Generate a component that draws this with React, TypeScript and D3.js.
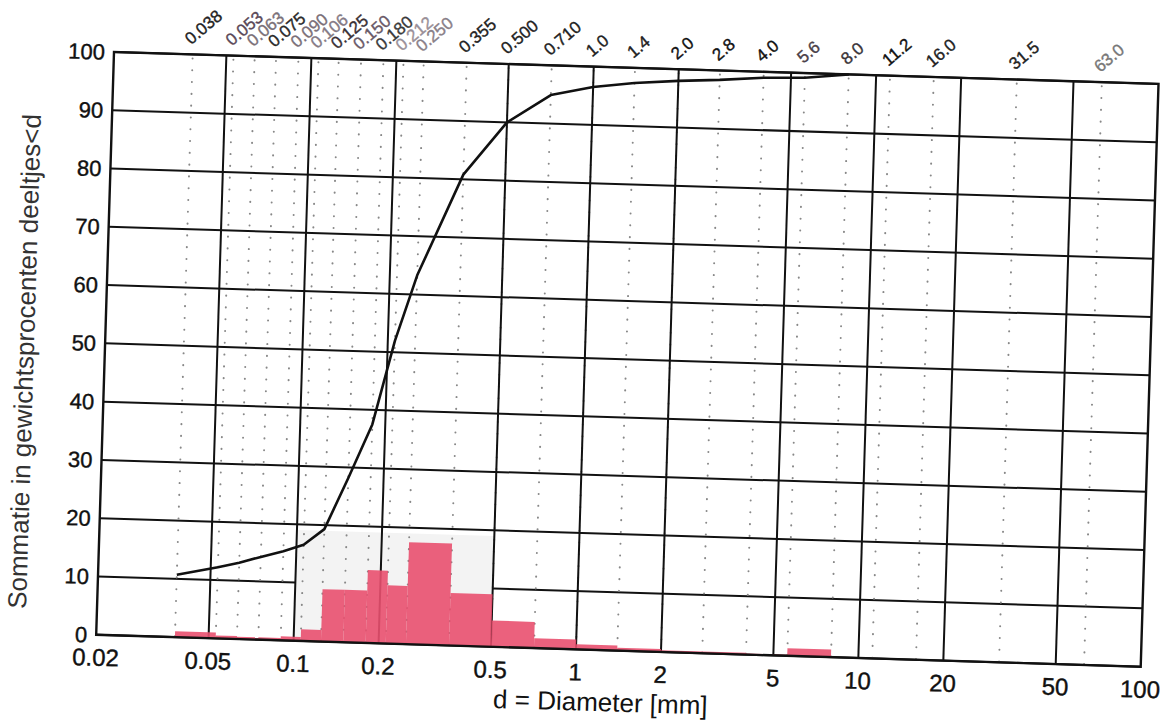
import React from "react";
import * as d3 from "d3";

// ---- data ----
const sieveSizes = [0.038, 0.053, 0.063, 0.075, 0.09, 0.106, 0.125, 0.15, 0.18, 0.212, 0.25, 0.355, 0.5, 0.71, 1.0, 1.4, 2.0, 2.8, 4.0, 5.6, 8.0, 11.2, 16.0, 31.5, 63.0];
const sieveLabels = ["0.038", "0.053", "0.063", "0.075", "0.090", "0.106", "0.125", "0.150", "0.180", "0.212", "0.250", "0.355", "0.500", "0.710", "1.0", "1.4", "2.0", "2.8", "4.0", "5.6", "8.0", "11.2", "16.0", "31.5", "63.0"];
const curveSizes = [0.038, 0.053, 0.063, 0.075, 0.09, 0.106, 0.125, 0.15, 0.18, 0.212, 0.25, 0.355, 0.5, 0.71, 1.0, 1.4, 2.0, 2.8, 4.0, 5.6, 8.0];
const cumulativePct = [10.7, 12.2, 13.1, 14.2, 15.3, 16.5, 19.3, 28.2, 37.5, 52.0, 63.3, 80.8, 90.0, 94.9, 96.5, 97.4, 98.0, 98.4, 99.0, 99.2, 100];
const binLower = [0.038, 0.053, 0.063, 0.075, 0.09, 0.106, 0.125, 0.15, 0.18, 0.212, 0.25, 0.355, 0.5, 0.71, 1.0, 1.4, 2.0, 2.8, 4.0, 5.6];
const binUpper = [0.053, 0.063, 0.075, 0.09, 0.106, 0.125, 0.15, 0.18, 0.212, 0.25, 0.355, 0.5, 0.71, 1.0, 1.4, 2.0, 2.8, 4.0, 5.6, 8.0];
const fractionPct = [1.0, 0.5, 0.4, 0.4, 0.7, 2.0, 9.0, 9.0, 12.5, 10.0, 17.5, 9.0, 4.5, 1.7, 0.9, 0.5, 0.3, 0.3, 0.2, 1.3];
const xTicks = [0.02, 0.05, 0.1, 0.2, 0.5, 1, 2, 5, 10, 20, 50, 100];
const xTickLabels = ["0.02", "0.05", "0.1", "0.2", "0.5", "1", "2", "5", "10", "20", "50", "100"];
const majorX = [0.05, 0.1, 0.2, 0.5, 1, 2, 5, 10, 20, 50];
const yTicks = [0, 10, 20, 30, 40, 50, 60, 70, 80, 90, 100];
const shadeBand = { lo: 0.1, hi: 0.5, top: 19 };

// label tones (scan shading), style only
const labelTones = ["#222", "#5a4858", "#7a7078", "#2a2a2a", "#7a6f78", "#857a85", "#3a3035", "#6a5a68", "#3a3a3a", "#9a9098", "#8a8088", "#222", "#222", "#222", "#222", "#222", "#111", "#111", "#111", "#4a4048", "#3a3438", "#111", "#222", "#222", "#777"];

const W = 1045;
const H = 583;
const FONT = "'Liberation Sans', Arial, Helvetica, sans-serif";

export default function App() {
  const x = d3.scaleLog().domain([0.02, 100]).range([0, W]);
  const y = d3.scaleLinear().domain([0, 100]).range([H, 0]);
  const line = d3
    .line<number>()
    .x((_, i) => x(curveSizes[i]))
    .y((d) => y(d));

  return (
    <svg
      width={1176}
      height={724}
      style={{ position: "absolute", left: 0, top: 0, background: "#fff" }}
    >
      <rect x={0} y={0} width={1176} height={724} fill="#fff" />
      <g transform="translate(114,52) rotate(1.75)">
        {/* horizontal grid */}
        {yTicks.map((t) => (
          <line key={"h" + t} x1={0} x2={W} y1={y(t)} y2={y(t)} stroke="#111" strokeWidth={2} />
        ))}
        {/* shaded band covering the grid */}
        <rect
          x={x(shadeBand.lo)}
          y={y(shadeBand.top)}
          width={x(shadeBand.hi) - x(shadeBand.lo)}
          height={y(0) - y(shadeBand.top)}
          fill="#f3f3f3"
        />
        {/* dotted sieve lines */}
        {sieveSizes.map((s) => (
          <line
            key={"d" + s}
            x1={x(s)}
            x2={x(s)}
            y1={4}
            y2={H}
            stroke="#888"
            strokeWidth={2}
            strokeLinecap="round"
            strokeDasharray="0.1 11.7"
          />
        ))}
        {/* major vertical grid */}
        {majorX.map((t) => (
          <line key={"v" + t} x1={x(t)} x2={x(t)} y1={0} y2={H} stroke="#111" strokeWidth={2} />
        ))}
        {/* histogram bars */}
        {fractionPct.map((v, i) => (
          <rect
            key={"b" + i}
            x={x(binLower[i])}
            y={y(v)}
            width={x(binUpper[i]) - x(binLower[i])}
            height={y(0) - y(v)}
            fill="#e9506f"
            fillOpacity={0.9}
          />
        ))}
        {/* cumulative curve */}
        <path d={line(cumulativePct) || ""} fill="none" stroke="#111" strokeWidth={2.6} strokeLinejoin="round" />
        {/* frame */}
        <rect x={0} y={0} width={W} height={H} fill="none" stroke="#111" strokeWidth={2.4} />
        {/* y tick labels */}
        {yTicks.map((t) => (
          <text
            key={"yl" + t}
            x={-9}
            y={y(t)}
            dy="0.36em"
            textAnchor="end"
            fontFamily={FONT}
            fontSize={22}
            fill="#111"
            stroke="#111"
            strokeWidth={0.4}
          >
            {t}
          </text>
        ))}
        {/* x tick labels */}
        {xTicks.map((t, i) => (
          <text
            key={"xl" + t}
            x={x(t)}
            y={H + 31}
            textAnchor="middle"
            fontFamily={FONT}
            fontSize={24}
            fill="#111"
            stroke="#111"
            strokeWidth={0.4}
          >
            {xTickLabels[i]}
          </text>
        ))}
        {/* sieve labels on top */}
        {sieveSizes.map((s, i) => (
          <text
            key={"sl" + s}
            transform={`translate(${x(s) - 2},${-9}) rotate(-42)`}
            fontFamily={FONT}
            fontSize={17}
            fill={labelTones[i]}
            stroke={labelTones[i]}
            strokeWidth={0.35}
          >
            {sieveLabels[i]}
          </text>
        ))}
        {/* axis titles */}
        <text
          x={506}
          y={644}
          textAnchor="middle"
          fontFamily={FONT}
          fontSize={26}
          fill="#111"
        >
          d = Diameter [mm]
        </text>
        <text
          transform="translate(-80,312) rotate(-90)"
          textAnchor="middle"
          dominantBaseline="central"
          fontFamily={FONT}
          fontSize={26}
          fill="#333"
        >
          {"Sommatie in gewichtsprocenten deeltjes<d"}
        </text>
      </g>
    </svg>
  );
}
